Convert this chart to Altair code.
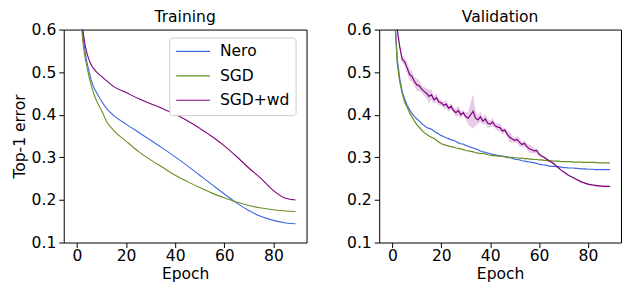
import altair as alt
import pandas as pd

series_names = ["Nero", "SGD", "SGD+wd"]
series_colors = ["#4169e1", "#6b8e23", "#800080"]

# ---------------- Training ----------------
train_epochs = [0, 1, 2, 3, 4, 5, 6, 7, 8, 10, 12, 15, 20, 25, 30, 35, 40, 45,
                50, 55, 60, 65, 70, 75, 80, 85, 89]
train_nero = [0.95, 0.78, 0.615, 0.56, 0.525, 0.5, 0.478, 0.462, 0.452, 0.432,
              0.415, 0.398, 0.378, 0.359, 0.34, 0.321, 0.301, 0.28, 0.258,
              0.236, 0.214, 0.193, 0.175, 0.161, 0.152, 0.146, 0.144]
train_sgd = [0.93, 0.75, 0.6, 0.545, 0.515, 0.487, 0.465, 0.447, 0.432, 0.41,
             0.385, 0.363, 0.338, 0.314, 0.294, 0.276, 0.258, 0.243, 0.229,
             0.216, 0.205, 0.195, 0.187, 0.181, 0.177, 0.174, 0.173]
train_sgdwd = [0.96, 0.8, 0.63, 0.575, 0.546, 0.528, 0.515, 0.507, 0.5, 0.49,
               0.48, 0.466, 0.452, 0.438, 0.426, 0.414, 0.401, 0.386, 0.368,
               0.349, 0.327, 0.302, 0.275, 0.25, 0.222, 0.204, 0.2]

# ---------------- Validation ----------------
val_epochs = list(range(90))
val_nero = [0.95, 0.63, 0.53, 0.485, 0.455, 0.437, 0.423, 0.412, 0.403, 0.396,
            0.39, 0.385, 0.379, 0.375, 0.37, 0.368, 0.366, 0.362, 0.358, 0.355,
            0.351, 0.349, 0.346, 0.344, 0.341, 0.34, 0.337, 0.334, 0.332, 0.331,
            0.328, 0.326, 0.324, 0.322, 0.32, 0.318, 0.315, 0.313, 0.312, 0.31,
            0.309, 0.307, 0.306, 0.305, 0.304, 0.303, 0.302, 0.3, 0.299, 0.298,
            0.296, 0.295, 0.294, 0.292, 0.291, 0.29, 0.289, 0.288, 0.287, 0.286,
            0.284, 0.283, 0.282, 0.281, 0.28, 0.279, 0.279, 0.278, 0.278, 0.277,
            0.276, 0.276, 0.275, 0.275, 0.275, 0.274, 0.274, 0.273, 0.273, 0.273,
            0.272, 0.272, 0.272, 0.271, 0.271, 0.271, 0.271, 0.271, 0.271, 0.271]
val_sgd = [0.95, 0.62, 0.52, 0.478, 0.45, 0.43, 0.418, 0.405, 0.395, 0.385,
           0.377, 0.37, 0.364, 0.358, 0.354, 0.35, 0.347, 0.345, 0.34, 0.336,
           0.332, 0.33, 0.328, 0.327, 0.325, 0.324, 0.322, 0.321, 0.32, 0.318,
           0.316, 0.315, 0.314, 0.313, 0.311, 0.31, 0.309, 0.309, 0.308, 0.306,
           0.305, 0.304, 0.304, 0.303, 0.303, 0.302, 0.301, 0.301, 0.3, 0.3,
           0.299, 0.299, 0.298, 0.298, 0.297, 0.297, 0.296, 0.296, 0.295, 0.295,
           0.294, 0.294, 0.293, 0.293, 0.292, 0.292, 0.291, 0.291, 0.291, 0.29,
           0.29, 0.29, 0.29, 0.29, 0.289, 0.289, 0.289, 0.289, 0.288, 0.288,
           0.288, 0.288, 0.288, 0.288, 0.287, 0.287, 0.287, 0.287, 0.287, 0.287]
val_sgdwd = [0.95, 0.72, 0.6, 0.56, 0.53, 0.525, 0.51, 0.495, 0.49, 0.478,
             0.47, 0.468, 0.46, 0.455, 0.45, 0.443, 0.447, 0.435, 0.44, 0.43,
             0.428, 0.422, 0.425, 0.415, 0.42, 0.41, 0.405, 0.41, 0.4, 0.405,
             0.396, 0.392, 0.4, 0.408, 0.392, 0.388, 0.395, 0.385, 0.39, 0.38,
             0.378, 0.383, 0.374, 0.371, 0.37, 0.362, 0.364, 0.354, 0.347, 0.343,
             0.34, 0.342, 0.335, 0.33, 0.333, 0.325, 0.32, 0.318, 0.315, 0.316,
             0.307, 0.303, 0.3, 0.296, 0.292, 0.289, 0.285, 0.28, 0.275, 0.27,
             0.266, 0.262, 0.258, 0.255, 0.252, 0.249, 0.246, 0.243, 0.241, 0.239,
             0.237, 0.236, 0.235, 0.234, 0.233, 0.233, 0.232, 0.232, 0.232, 0.232]
val_sgdwd_std = [0.005, 0.005, 0.005, 0.005, 0.008, 0.01, 0.012, 0.015, 0.012, 0.01,
                 0.015, 0.012, 0.008, 0.01, 0.012, 0.016, 0.012, 0.008, 0.01, 0.008,
                 0.006, 0.008, 0.01, 0.007, 0.008, 0.006, 0.01, 0.012, 0.008, 0.006,
                 0.008, 0.015, 0.028, 0.04, 0.018, 0.01, 0.012, 0.008, 0.012, 0.01,
                 0.008, 0.01, 0.006, 0.008, 0.01, 0.008, 0.006, 0.008, 0.012, 0.008,
                 0.006, 0.008, 0.01, 0.006, 0.008, 0.006, 0.01, 0.008, 0.006, 0.005,
                 0.004, 0.003, 0.003, 0.003, 0.003, 0.003, 0.003, 0.003, 0.002, 0.002,
                 0.002, 0.002, 0.002, 0.002, 0.002, 0.002, 0.002, 0.002, 0.002, 0.002,
                 0.002, 0.002, 0.002, 0.002, 0.002, 0.002, 0.002, 0.002, 0.002, 0.002]

FONT = "DejaVu Sans"
FS = 15.6

train_df = pd.concat([
    pd.DataFrame({"epoch": train_epochs, "err": vals, "opt": name})
    for name, vals in zip(series_names, [train_nero, train_sgd, train_sgdwd])
])
val_df = pd.concat([
    pd.DataFrame({"epoch": val_epochs, "err": vals, "opt": name})
    for name, vals in zip(series_names, [val_nero, val_sgd, val_sgdwd])
])
band_df = pd.DataFrame({"epoch": val_epochs, "err": val_sgdwd, "sd": val_sgdwd_std})

x_scale = alt.Scale(domain=[-5.4, 93.5], nice=False, zero=False)
y_scale = alt.Scale(domain=[0.1, 0.6], nice=False, zero=False)
x_axis = alt.Axis(values=[0, 20, 40, 60, 80], title="Epoch", format="d")


def y_axis(title):
    if title:
        return alt.Axis(values=[0.1, 0.2, 0.3, 0.4, 0.5, 0.6], format=".1f", title=title)
    return alt.Axis(values=[0.1, 0.2, 0.3, 0.4, 0.5, 0.6], format=".1f", title=None)


legend = alt.Legend(
    title=None, orient="none", legendX=106, legendY=8,
    symbolType="stroke", symbolSize=1156, symbolStrokeWidth=1.2,
    clipHeight=16, rowPadding=7.5, padding=6, labelOffset=9,
    labelFont=FONT, labelFontSize=FS, labelColor="black",
    strokeColor="#cccccc", cornerRadius=3, fillColor="white",
)

PH = 214

train_chart = alt.Chart(train_df).mark_line(
    clip=True, strokeWidth=1.1, interpolate="monotone"
).encode(
    x=alt.X("epoch:Q", scale=x_scale, axis=x_axis),
    y=alt.Y("err:Q", scale=y_scale, axis=y_axis("Top-1 error")),
    color=alt.Color("opt:N", scale=alt.Scale(domain=series_names, range=series_colors),
                    legend=legend),
).properties(width=244, height=PH,
             title=alt.TitleParams("Training", offset=-3))

band = alt.Chart(band_df).transform_calculate(
    lo="datum.err - datum.sd", hi="datum.err + datum.sd"
).mark_area(clip=True, color="#800080", opacity=0.2).encode(
    x=alt.X("epoch:Q", scale=x_scale, axis=x_axis),
    y=alt.Y("lo:Q", scale=y_scale, axis=y_axis(None)),
    y2="hi:Q",
)
val_lines = alt.Chart(val_df).mark_line(clip=True, strokeWidth=1.2).encode(
    x=alt.X("epoch:Q", scale=x_scale, axis=x_axis),
    y=alt.Y("err:Q", scale=y_scale, axis=y_axis(None)),
    color=alt.Color("opt:N", scale=alt.Scale(domain=series_names, range=series_colors),
                    legend=None),
)
val_chart = alt.layer(band, val_lines).properties(
    width=243, height=PH,
    title=alt.TitleParams("Validation", offset=-3))

chart = alt.hconcat(train_chart, val_chart, spacing=38).properties(
    padding={"left": 3, "top": 0, "right": 0, "bottom": 0}
).resolve_scale(color="shared").configure_view(
    stroke="black", strokeWidth=1
).configure_axis(
    grid=False, domain=False, tickColor="black", tickSize=5, tickWidth=1,
    labelColor="black", labelFont=FONT, labelFontSize=FS,
    titleColor="black", titleFont=FONT, titleFontSize=FS, titleFontWeight="normal",
).configure_axisX(
    labelPadding=1, titlePadding=3
).configure_axisY(
    labelPadding=3, titlePadding=4
).configure_title(
    font=FONT, fontSize=FS, fontWeight="normal", color="black"
)

chart.save("out.html", embed_options={"renderer": "svg", "actions": False})
